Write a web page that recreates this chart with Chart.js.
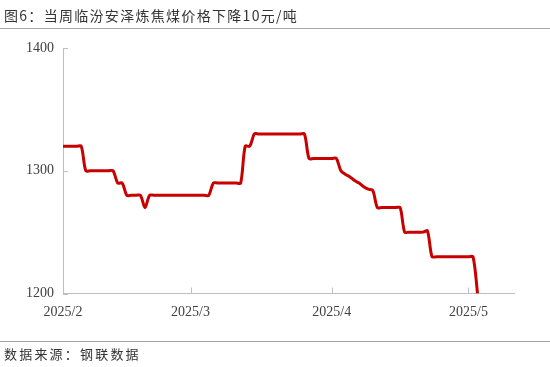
<!DOCTYPE html>
<html>
<head>
<meta charset="utf-8">
<script src="https://cdn.jsdelivr.net/npm/chart.js@4"></script>
<style>
  body { margin: 0; background: #fff; width: 550px; height: 367px; overflow: hidden; position: relative; font-family: "Noto Sans CJK SC", sans-serif; }
  #wrap { position: absolute; left: 0; top: 0; width: 550px; height: 367px; }
  #title { position: absolute; left: 4px; top: 5px; font-size: 14px; letter-spacing: 1.3px; color: #333; white-space: nowrap; }
  #src { position: absolute; left: 4px; top: 344px; font-size: 13px; letter-spacing: 2.2px; color: #333; white-space: nowrap; }
  .rule { position: absolute; left: 0; width: 550px; height: 1px; background: #a6a6a6; }
</style>
</head>
<body>
<div id="wrap"><canvas id="chart" width="550" height="367"></canvas></div>
<div id="title">图6：当周临汾安泽炼焦煤价格下降10元/吨</div>
<div class="rule" style="top:28px"></div>
<div class="rule" style="top:341px"></div>
<div id="src">数据来源：钢联数据</div>
<script>
// days counted from 2025/2/1
const tickDays = [0, 28, 59, 89];
const tickLabels = ['2025/2', '2025/3', '2025/4', '2025/5'];

// 临汾安泽炼焦煤价格 (元/吨), one value per day from 2025/2/1
const prices = [
  1320, 1320, 1320, 1320, 1320,
  1300, 1300, 1300, 1300, 1300, 1300, 1300,
  1290, 1290,
  1280, 1280, 1280, 1280,
  1270,
  1280, 1280, 1280, 1280, 1280, 1280, 1280, 1280, 1280, 1280, 1280, 1280, 1280, 1280,
  1290, 1290, 1290, 1290, 1290, 1290, 1290,
  1320, 1320,
  1330, 1330, 1330, 1330, 1330, 1330, 1330, 1330, 1330, 1330, 1330, 1330,
  1310, 1310, 1310, 1310, 1310, 1310, 1310,
  1300, 1297, 1295, 1292, 1290, 1287, 1285,
  1284,
  1270,
  1270, 1270, 1270, 1270, 1270,
  1250, 1250, 1250, 1250, 1250, 1251,
  1230, 1230, 1230, 1230, 1230, 1230, 1230, 1230, 1230, 1230,
  1200
];

const axisGray = '#bfbfbf';

// excel style tick marks drawn inside the plot
const innerTicks = {
  id: 'innerTicks',
  beforeDatasetsDraw(chart) {
    const { ctx, chartArea, scales } = chart;
    ctx.save();
    ctx.strokeStyle = axisGray;
    ctx.lineWidth = 1;
    ctx.beginPath();
    scales.x.ticks.forEach(t => {
      const px = Math.round(scales.x.getPixelForValue(t.value)) + 0.5;
      ctx.moveTo(px, chartArea.bottom);
      ctx.lineTo(px, chartArea.bottom - 6);
    });
    scales.y.ticks.forEach(t => {
      const py = Math.round(scales.y.getPixelForValue(t.value)) + 0.5;
      ctx.moveTo(chartArea.left, py);
      ctx.lineTo(chartArea.left + 5, py);
    });
    ctx.stroke();
    ctx.restore();
  }
};

const ctx = document.getElementById('chart').getContext('2d');
new Chart(ctx, {
  type: 'line',
  data: {
    datasets: [{
      label: '临汾安泽炼焦煤',
      data: prices.map((v, i) => ({ x: i, y: v })),
      borderColor: '#c80000',
      borderWidth: 3,
      pointRadius: 0,
      fill: false,
      tension: 0.3
    }]
  },
  options: {
    responsive: false,
    animation: false,
    layout: { padding: { left: 0, right: 36, top: 48, bottom: 0 } },
    plugins: {
      legend: { display: false },
      tooltip: { enabled: false }
    },
    scales: {
      x: {
        type: 'linear',
        min: 0,
        max: 99,
        afterFit: s => { s.height = 73.5; },
        afterBuildTicks: s => { s.ticks = tickDays.map(v => ({ value: v })); },
        grid: { display: false, drawTicks: false },
        border: { color: axisGray, width: 1 },
        ticks: {
          autoSkip: false,
          maxRotation: 0,
          padding: 10,
          color: '#404040',
          font: { family: 'Liberation Serif', size: 14 },
          callback: v => tickLabels[tickDays.indexOf(v)]
        }
      },
      y: {
        min: 1200,
        max: 1400,
        afterFit: s => { s.width = 63; },
        grid: { display: false, drawTicks: false },
        border: { color: axisGray, width: 1 },
        ticks: {
          stepSize: 100,
          padding: 9,
          color: '#404040',
          font: { family: 'Liberation Serif', size: 14 },
          callback: v => String(v)
        }
      }
    }
  },
  plugins: [innerTicks]
});
</script>
</body>
</html>
